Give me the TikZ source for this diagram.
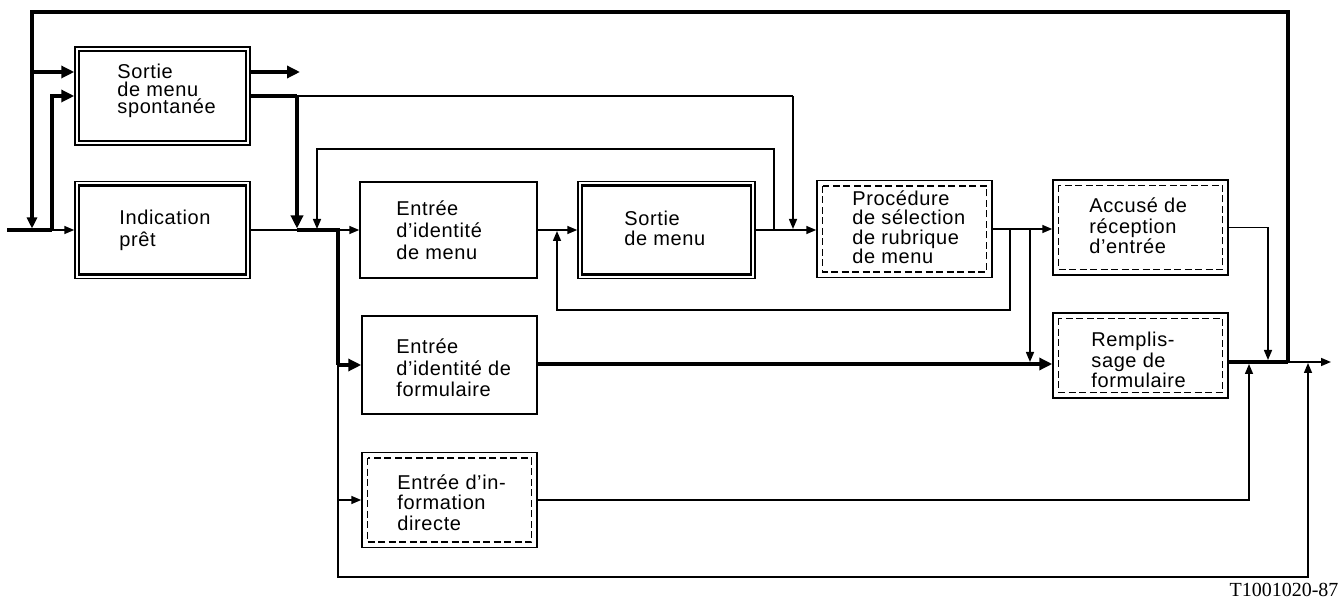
\documentclass[tikz,border=0pt]{standalone}
\usepackage{fontspec}
\setmainfont{Liberation Sans}[LetterSpace=3]
\newfontfamily\labelfont{Liberation Serif}
\usetikzlibrary{arrows.meta,calc}
\begin{document}
\begin{tikzpicture}[x=1pt,y=-1pt,
  base/.style={rectangle, draw, line width=1.5pt, minimum width=175pt, minimum height=97pt,
    inner sep=0pt},
  plainbox/.style={base},
  dblbox/.style={base, path picture={\draw[line width=2.2pt]
      ([shift={(4pt,-4pt)}]path picture bounding box.north west) rectangle
      ([shift={(-4pt,4pt)}]path picture bounding box.south east);}},
  dashbox/.style={base, path picture={\draw[line width=1.8pt, dash pattern=on 7pt off 3.5pt]
      ([shift={(5.5pt,-5.5pt)}]path picture bounding box.north west) rectangle
      ([shift={(-5.5pt,5.5pt)}]path picture bounding box.south east);}},
  txt/.style={anchor=west, inner sep=0pt, align=left, font=\fontsize{20pt}{20.5pt}\selectfont},
  thk/.style={line width=3.5pt},
  thn/.style={line width=1.5pt},
  thkarr/.style={-{Triangle[length=13pt,width=12pt]}},
  thnarr/.style={-{Triangle[length=10pt,width=8pt]}}
]
\useasboundingbox (0,0) rectangle (1339,601);

% boxes
\node[dblbox, minimum height=98pt] (sp) at (162.5,96) {};
\node[dblbox] (ip) at (162.5,230) {};
\node[plainbox, minimum width=177pt, minimum height=96pt] (em) at (448.5,230) {};
\node[dblbox, minimum width=177pt] (sm) at (666.5,230) {};
\node[dashbox] (pr) at (904.5,229) {};
\node[dashbox, minimum height=95pt] (ac) at (1140.5,227.5) {};
\node[dashbox, minimum height=85pt] (rf) at (1140.5,355.5) {};
\node[plainbox, minimum height=98pt] (ef) at (449.5,365) {};
\node[dashbox, minimum height=95pt] (ed) at (449.5,500) {};

% texts
\node[txt, font=\fontsize{20pt}{17.5pt}\selectfont] (spt) at ($(sp.west)+(43,-5)$) {Sortie\\de menu\\spontanée};
\node[txt, font=\fontsize{20pt}{22pt}\selectfont] (ipt) at ($(ip.west)+(45,0)$) {Indication\\prêt};
\node[txt, font=\fontsize{20pt}{22pt}\selectfont] (emt) at ($(em.west)+(37,0)$) {Entrée\\d’identité\\de menu};
\node[txt] (smt) at ($(sm.west)+(47,-1.5)$) {Sortie\\de menu};
\node[txt, font=\fontsize{20pt}{19.5pt}\selectfont] (prt) at ($(pr.west)+(36,-2)$) {Procédure\\de sélection\\de rubrique\\de menu};
\node[txt] (act) at ($(ac.west)+(37,-1.5)$) {Accusé de\\réception\\d’entrée};
\node[txt] (rft) at ($(rf.west)+(39,4.5)$) {Remplis-\\sage de\\formulaire};
\node[txt, font=\fontsize{20pt}{21.5pt}\selectfont] (eft) at ($(ef.west)+(35,3)$) {Entrée\\d’identité de\\formulaire};
\node[txt] (edt) at ($(ed.west)+(36,2.5)$) {Entrée d’in-\\formation\\directe};
\node[font=\labelfont\fontsize{20pt}{24pt}\selectfont] (lab) at (1284,590) {T1001020-87};

% junction coordinates
\coordinate (inS) at (7,230);
\coordinate (jA2) at (32,228.5);
\coordinate (jB) at (52,230);
\coordinate (tl) at (32,12);
\coordinate (tr) at (1288,12);
\coordinate (b72) at (32,72);
\coordinate (b96) at (52,96);
\coordinate (o72s) at (250,72);
\coordinate (o72) at (300,72);
\coordinate (s96) at (297,96);
\coordinate (bus1) at (297,230);
\coordinate (bus1t) at (297,228.5);
\coordinate (bus2) at (338,230);
\coordinate (f365) at (338,365);
\coordinate (d500) at (338,500);
\coordinate (bot1) at (338,577);
\coordinate (bot2) at (1308,577);
\coordinate (bot2t) at (1308,363);
\coordinate (t793) at (793,96);
\coordinate (t793b) at (793,229);
\coordinate (l774) at (774,230);
\coordinate (l774t) at (774,149);
\coordinate (l317t) at (317,149);
\coordinate (l317b) at (317,229);
\coordinate (r1010) at (1010,229);
\coordinate (r1010b) at (1010,310);
\coordinate (r557b) at (557,310);
\coordinate (r557t) at (557,231);
\coordinate (d1030) at (1030,229);
\coordinate (d1030b) at (1030,362);
\coordinate (a1268) at (1268,227.5);
\coordinate (a1268b) at (1268,360);
\coordinate (u1249) at (1249,500);
\coordinate (u1249t) at (1249,364);
\coordinate (out) at (1288,362);
\coordinate (fin) at (1331,362);

% input side
\draw[thk] (inS) -- (jB);
\draw[thn,thnarr] (jB) -- (ip.west);
\draw[thk,thkarr] (jB) -- (b96) -- (b96 -| sp.west);
\draw[thk] (out) -- (tr) -- (tl) -- (b72);
\draw[thk,-{Triangle[length=11pt,width=10pt]}] (b72) -- (jA2);
\draw[thk,thkarr] (b72) -- (b72 -| sp.west);

% outputs of Sortie de menu spontanee
\draw[thk,thkarr] (o72s) -- (o72);
\draw[thk] (sp.east) -- (s96);
\draw[thk,thkarr] (s96) -- (bus1t);
\draw[thn] (s96) -- (t793);
\draw[thn,thnarr] (t793) -- (t793b);

% bus
\draw[thn] (ip.east) -- (bus1);
\draw[thk] (bus1) -- (bus2) -- (f365);
\draw[thn,thnarr] (bus2) -- (em.west);
\draw[thk,thkarr] (f365) -- (ef.west);
\draw[thn] (f365) -- (d500);
\draw[thn,thnarr] (d500) -- (ed.west);
\draw[thn,thnarr] (d500) -- (bot1) -- (bot2) -- (bot2t);

% loop back from Sortie de menu
\draw[thn,thnarr] (l774) -- (l774t) -- (l317t) -- (l317b);

% middle chain
\draw[thn,thnarr] (em.east) -- (em.east -| sm.west);
\draw[thn,thnarr] (sm.east) -- (sm.east -| pr.west);
\draw[thn,thnarr] (pr.east) -- (pr.east -| ac.west);
\draw[thn,thnarr] (r1010) -- (r1010b) -- (r557b) -- (r557t);
\draw[thn,thnarr] (d1030) -- (d1030b);

% formulaire
\draw[thk,thkarr] (ef.east |- 0,364) -- (rf.west |- 0,364);

% right side
\draw[thn,thnarr] (ac.east) -- (a1268) -- (a1268b);
\draw[thk] (rf.east |- out) -- (out);
\draw[thn,thnarr] (out) -- (fin);
\draw[thn,thnarr] (ed.east) -- (u1249) -- (u1249t);
\end{tikzpicture}
\end{document}
